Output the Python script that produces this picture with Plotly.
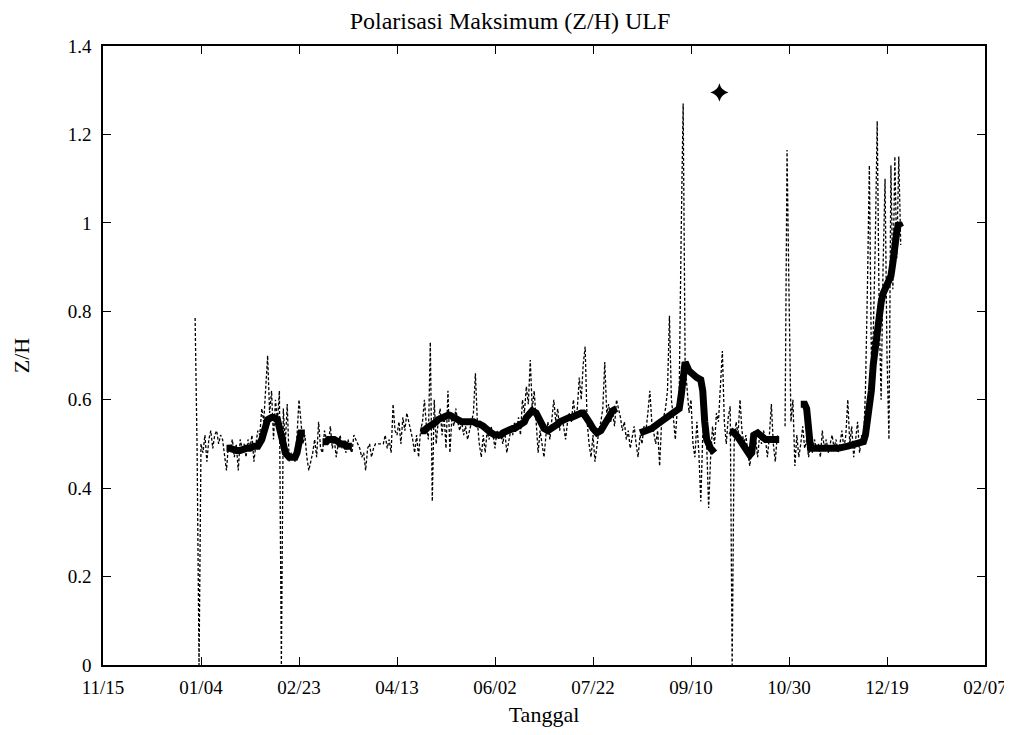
import pandas as pd
import plotly.graph_objects as go

# ---------------- data ----------------
start_date = "2007-11-15"
tick_labels = ["11/15", "01/04", "02/23", "04/13", "06/02", "07/22", "09/10", "10/30", "12/19", "02/07"]

# raw Z/H (dashed) : day offset from start, value
raw_days = list(range(47, 140)) + list(range(143, 346)) + [346] + list(range(348, 408))
raw_vals = [
    0.785, 0.49, 0.0, 0.50, 0.48, 0.52, 0.46, 0.51, 0.53, 0.49,
    0.52, 0.53, 0.50, 0.52, 0.51, 0.47, 0.44, 0.50, 0.49, 0.51,
    0.47, 0.50, 0.44, 0.51, 0.49, 0.50, 0.47, 0.51, 0.49, 0.52,
    0.46, 0.50, 0.53, 0.52, 0.58, 0.55, 0.62, 0.70, 0.57, 0.62,
    0.51, 0.60, 0.55, 0.62, 0.0, 0.58, 0.50, 0.59, 0.46, 0.48,
    0.47, 0.46, 0.52, 0.60, 0.55, 0.50, 0.52, 0.47, 0.44, 0.46,
    0.48, 0.51, 0.47, 0.55, 0.49, 0.48, 0.53, 0.51, 0.50, 0.54,
    0.49, 0.51, 0.47, 0.50, 0.52, 0.49, 0.50, 0.48, 0.51, 0.49,
    0.48, 0.52, 0.51, 0.50, 0.49, 0.47, 0.48, 0.44, 0.49, 0.50,
    0.47, 0.49, 0.50,
    # day 143 ..
    0.50, 0.52, 0.49, 0.51, 0.48, 0.59, 0.53, 0.52, 0.55, 0.50,
    0.56, 0.53, 0.57, 0.55, 0.53, 0.51, 0.48, 0.52, 0.47, 0.53,
    0.55, 0.60, 0.54, 0.51, 0.73, 0.37, 0.60, 0.50, 0.55, 0.58,
    0.52, 0.57, 0.49, 0.62, 0.48, 0.56, 0.54, 0.58, 0.55, 0.53,
    0.55, 0.52, 0.54, 0.51, 0.53, 0.55, 0.57, 0.66, 0.55, 0.50,
    0.47, 0.52, 0.48, 0.53, 0.51, 0.54, 0.52, 0.49, 0.53, 0.51,
    0.52, 0.50, 0.53, 0.48, 0.51, 0.53, 0.52, 0.55, 0.53, 0.56,
    0.52, 0.60, 0.57, 0.63, 0.59, 0.69, 0.58, 0.62, 0.55, 0.48,
    0.53, 0.50, 0.47, 0.52, 0.55, 0.51, 0.56, 0.60, 0.55, 0.58,
    0.53, 0.56, 0.54, 0.51, 0.55, 0.57, 0.55, 0.60, 0.56, 0.58,
    0.65, 0.60, 0.68, 0.72, 0.55, 0.50, 0.47, 0.52, 0.46, 0.50,
    0.53, 0.55, 0.58, 0.685, 0.57, 0.59, 0.55, 0.57, 0.54, 0.60,
    0.58, 0.56, 0.53, 0.55, 0.51, 0.53, 0.49, 0.52, 0.54, 0.50,
    0.47, 0.52, 0.50, 0.54, 0.53, 0.57, 0.62, 0.55, 0.52, 0.50,
    0.53, 0.45, 0.55, 0.56, 0.58, 0.62, 0.79, 0.60, 0.56, 0.51,
    0.58, 0.62, 0.98, 1.27, 0.68, 0.62, 0.57, 0.60, 0.50, 0.47,
    0.55, 0.48, 0.37, 0.52, 0.56, 0.50, 0.355, 0.47, 0.54, 0.50,
    0.57, 0.55, 0.62, 0.71, 0.55, 0.50, 0.56, 0.585, 0.0, 0.50,
    0.55, 0.52, 0.60, 0.53, 0.50, 0.52, 0.48, 0.45, 0.49, 0.53,
    0.51, 0.47, 0.52, 0.50, 0.53, 0.51, 0.47, 0.52, 0.59, 0.50,
    0.46, 0.52, 0.51,
    None,
    # day 348 ..
    0.54, 1.165, 0.84, 0.55, 0.60, 0.45, 0.52, 0.47, 0.50, 0.54,
    0.49, 0.51, 0.47, 0.50, 0.48, 0.51, 0.49, 0.50, 0.47, 0.53,
    0.49, 0.51, 0.48, 0.50, 0.52, 0.49, 0.51, 0.48, 0.50, 0.53,
    0.49, 0.52, 0.60, 0.50, 0.54, 0.47, 0.51, 0.55, 0.48, 0.52,
    0.50, 0.62, 0.85, 1.13, 0.70, 0.75, 0.95, 1.23, 0.80, 0.60,
    0.90, 1.10, 0.70, 0.51, 1.13, 0.85, 1.15, 0.92, 1.15, 0.95,
]

# smoothed Z/H (thick line), None marks a break
avg_days = [
    63, 65, 68, 70, 73, 75, 77, 79, 81, 82, 84, 86, 87, 89, 90, 91, 92, 93, 95, 97, 98, 99, 100, 101, 103,
    104,
    112, 114, 115, 117, 118, 120, 121, 123, 124, 126, 127,
    128,
    162, 164, 165, 167, 168, 170, 171, 173, 174, 176, 177, 179, 180, 182, 183, 185, 186, 188, 189, 191,
    192, 194, 195, 197, 198, 200, 201, 203, 204, 206, 207, 209, 210, 212, 213, 215, 216, 218, 219, 221,
    223, 225, 227, 229, 230, 232, 233, 235, 236, 238, 239, 241, 242, 244, 245, 247, 248, 250, 252, 254,
    256, 258, 260, 262,
    263,
    274, 277, 280, 283, 286, 289, 292, 294, 295, 296, 297, 299, 301, 303, 305,
    306, 307, 308, 310, 312,
    313,
    320, 322, 324, 326, 328, 330, 331, 332, 334, 336, 338, 340, 342, 345,
    346,
    356, 358, 359, 360, 361, 365, 370, 375, 380, 385, 388, 389, 390, 391, 392,
    393, 394, 395, 396, 397, 398, 399, 400, 401, 402, 403, 404, 405, 406, 407,
]
avg_vals = [
    0.49, 0.49, 0.485, 0.485, 0.49, 0.49, 0.495, 0.495, 0.51, 0.53, 0.555, 0.56, 0.56, 0.555, 0.54, 0.52, 0.50, 0.48, 0.47, 0.47, 0.47, 0.48, 0.52, 0.525, 0.525,
    None,
    0.505, 0.505, 0.51, 0.51, 0.51, 0.505, 0.50, 0.50, 0.495, 0.495, 0.495,
    None,
    0.53, 0.53, 0.535, 0.54, 0.545, 0.55, 0.555, 0.56, 0.56, 0.565, 0.565, 0.56, 0.56, 0.555, 0.55, 0.55, 0.55, 0.55, 0.55, 0.545,
    0.545, 0.54, 0.535, 0.53, 0.525, 0.52, 0.52, 0.52, 0.525, 0.53, 0.53, 0.535, 0.535, 0.54, 0.545, 0.55, 0.56, 0.57, 0.575, 0.57,
    0.555, 0.535, 0.53, 0.535, 0.54, 0.545, 0.55, 0.555, 0.555, 0.56, 0.56, 0.565, 0.565, 0.57, 0.57, 0.56, 0.55, 0.535, 0.525, 0.53,
    0.545, 0.56, 0.575, 0.58,
    None,
    0.525, 0.53, 0.535, 0.545, 0.555, 0.565, 0.572, 0.58, 0.61, 0.67, 0.685, 0.665, 0.655, 0.65, 0.645,
    0.62, 0.55, 0.51, 0.49, 0.48,
    None,
    0.53, 0.525, 0.515, 0.50, 0.485, 0.475, 0.48, 0.52, 0.525, 0.515, 0.51, 0.51, 0.51, 0.51,
    None,
    0.59, 0.59, 0.58, 0.50, 0.49, 0.49, 0.49, 0.49, 0.495, 0.50, 0.505, 0.52, 0.55, 0.57, 0.62,
    0.68, 0.72, 0.76, 0.79, 0.82, 0.84, 0.85, 0.86, 0.87, 0.88, 0.91, 0.96, 0.98, 1.0, 0.99,
]

star_day = [314.5]
star_val = [1.295]

# ---------------- figure ----------------
t0 = pd.Timestamp(start_date)
to_dates = lambda days: [t0 + pd.Timedelta(days=float(d)) for d in days]

FONT = "'Liberation Serif', 'DejaVu Serif', serif"
fig = go.Figure()
fig.add_trace(go.Scatter(
    x=to_dates(raw_days), y=raw_vals, mode="lines",
    line=dict(color="black", width=1.3, dash="3px,2px"),
    connectgaps=False, showlegend=False, hoverinfo="skip"))
fig.add_trace(go.Scatter(
    x=to_dates(avg_days), y=avg_vals, mode="lines",
    line=dict(color="black", width=7),
    connectgaps=False, showlegend=False))
fig.add_trace(go.Scatter(
    x=to_dates(star_day), y=star_val, mode="markers",
    marker=dict(symbol="star-diamond", size=13, color="black"),
    showlegend=False))

tick_dates = [t0 + pd.Timedelta(days=50 * i) for i in range(len(tick_labels))]

# page body adds an 8px margin: figure spans 8..1012 x 8..727
fig.update_layout(
    template="none",
    width=1004, height=719,
    margin=dict(l=95, r=27, t=38, b=62),
    paper_bgcolor="white", plot_bgcolor="white",
    font=dict(family=FONT, color="black", size=19),
    title=dict(text="Polarisasi Maksimum (Z/H) ULF", x=0.5, xanchor="center",
               yref="container", y=1.0, yanchor="top", pad=dict(t=4),
               font=dict(family=FONT, size=24, color="black")),
    xaxis=dict(
        type="date", range=[tick_dates[0], tick_dates[-1]], automargin=False,
        tickmode="array", tickvals=tick_dates, ticktext=tick_labels,
        ticks="inside", ticklen=8, tickwidth=1, tickcolor="black",
        showline=True, linecolor="black", linewidth=1.5, mirror="ticks",
        showgrid=False, zeroline=False, ticklabelstandoff=4,
        tickfont=dict(family=FONT, size=19),
        title=dict(text="Tanggal", font=dict(family=FONT, size=22), standoff=11),
    ),
    yaxis=dict(
        range=[0, 1.4], tickmode="linear", tick0=0, dtick=0.2, automargin=False,
        ticks="inside", ticklen=8, tickwidth=1, tickcolor="black",
        showline=True, linecolor="black", linewidth=1.5, mirror="ticks",
        showgrid=False, zeroline=False, ticklabelstandoff=6,
        tickfont=dict(family=FONT, size=19),
        title=dict(text="Z/H", font=dict(family=FONT, size=22), standoff=32),
    ),
)

fig.write_html("out.html")
